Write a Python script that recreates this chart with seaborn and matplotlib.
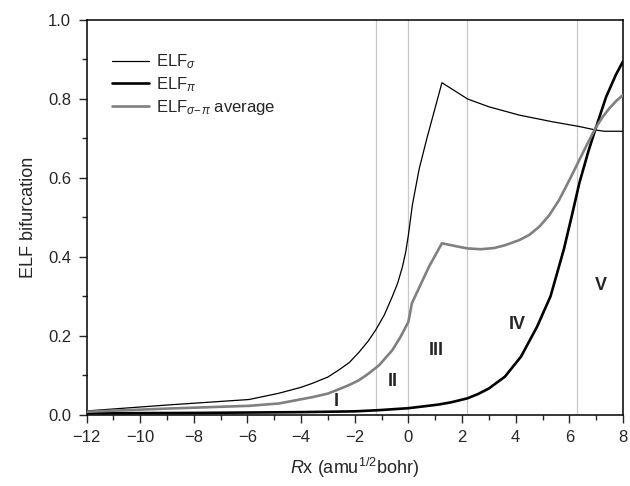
import matplotlib
matplotlib.use("Agg")
import matplotlib.pyplot as plt
import seaborn as sns
import pandas as pd
from matplotlib.ticker import MultipleLocator

# ---- data ----
sigma_x = [-12, -9, -5.94, -4.82, -4, -3.58, -3, -2.59, -2.2, -1.84, -1.5, -1.22, -0.9, -0.6,
           -0.4, -0.22, -0.1, 0, 0.15, 0.4, 0.7, 1.0, 1.25, 1.6, 2.2, 3, 4.13, 5.37, 6.37,
           6.99, 7.3, 8]
sigma_y = [0.009, 0.024, 0.038, 0.054, 0.069, 0.079, 0.095, 0.113, 0.132, 0.158, 0.186, 0.214,
           0.252, 0.299, 0.333, 0.375, 0.412, 0.455, 0.532, 0.622, 0.703, 0.778, 0.841, 0.826,
           0.800, 0.780, 0.759, 0.742, 0.730, 0.721, 0.718, 0.718]

pi_x = [-12, -8, -6, -4, -2, -1.1, 0, 1.1, 1.6, 2.2, 2.6, 3.0, 3.6, 4.2, 4.8, 5.3, 5.8,
        6.12, 6.37, 6.7, 6.97, 7.37, 7.74, 8]
pi_y = [0.003, 0.004, 0.005, 0.006, 0.008, 0.011, 0.016, 0.025, 0.031, 0.041, 0.052, 0.066,
        0.096, 0.147, 0.223, 0.300, 0.420, 0.512, 0.586, 0.665, 0.723, 0.805, 0.862, 0.895]

avg_x = [-12, -9, -5.94, -4.82, -4.2, -3.58, -3, -2.59, -2.2, -1.84, -1.5, -1.09, -0.6, -0.3,
         0, 0.13, 0.77, 1.25, 1.89, 2.2, 2.7, 3.2, 3.6, 4.13, 4.5, 4.88, 5.25, 5.62, 6.0,
         6.37, 6.7, 6.99, 7.25, 7.49, 7.75, 8]
avg_y = [0.007, 0.015, 0.022, 0.028, 0.036, 0.044, 0.053, 0.064, 0.075, 0.087, 0.103, 0.125,
         0.163, 0.196, 0.235, 0.282, 0.375, 0.434, 0.425, 0.421, 0.419, 0.422, 0.429, 0.442,
         0.455, 0.476, 0.505, 0.544, 0.594, 0.645, 0.690, 0.728, 0.755, 0.776, 0.795, 0.810]

region_bounds = [-1.2, 0, 2.2, 6.3]
region_labels = ["I", "II", "III", "IV", "V"]
region_label_x = [-2.7, -0.57, 1.05, 4.04, 7.16]
region_label_y = [0.032, 0.083, 0.163, 0.227, 0.326]

series_names = [r"ELF$_{\sigma}$", r"ELF$_{\pi}$", r"ELF$_{\sigma\!-\!\pi}$ average"]

# ---- style ----
sns.set_style("ticks")
plt.rcParams["font.family"] = ["Liberation Sans", "DejaVu Sans"]
plt.rcParams["mathtext.fontset"] = "custom"
plt.rcParams["mathtext.rm"] = "Liberation Sans"
plt.rcParams["mathtext.it"] = "Liberation Sans:italic"
plt.rcParams["mathtext.bf"] = "Liberation Sans:bold"

fig = plt.figure(figsize=(6.3, 4.86), dpi=100)
ax = fig.add_axes([86.5 / 630, 1 - 414.5 / 486, (623 - 86.5) / 630, (414.5 - 20) / 486])

for b in region_bounds:
    ax.axvline(b, color="#c8c8c8", lw=0.9, zorder=1)

df_s = pd.DataFrame({"x": sigma_x, "y": sigma_y})
df_p = pd.DataFrame({"x": pi_x, "y": pi_y})
df_a = pd.DataFrame({"x": avg_x, "y": avg_y})

sns.lineplot(data=df_s, x="x", y="y", ax=ax, color="black", lw=0.9, label=series_names[0],
             estimator=None, zorder=3)
sns.lineplot(data=df_p, x="x", y="y", ax=ax, color="black", lw=1.9, label=series_names[1],
             estimator=None, zorder=3)
sns.lineplot(data=df_a, x="x", y="y", ax=ax, color="#808080", lw=1.9, label=series_names[2],
             estimator=None, zorder=3)

for lab, lx, ly in zip(region_labels, region_label_x, region_label_y):
    ax.text(lx, ly, lab, fontsize=13, fontweight="bold", ha="center", va="center")

ax.set_xlim(-12, 8)
ax.set_ylim(0, 1.0)
ax.xaxis.set_major_locator(MultipleLocator(2))
ax.xaxis.set_minor_locator(MultipleLocator(1))
ax.yaxis.set_major_locator(MultipleLocator(0.2))
ax.yaxis.set_minor_locator(MultipleLocator(0.1))
ax.set_xticks(range(-12, 9, 2))
ax.set_xticklabels([str(v).replace("-", "\u2212") for v in range(-12, 9, 2)])
ax.set_yticks([0, 0.2, 0.4, 0.6, 0.8, 1.0])
ax.set_yticklabels(["0.0", "0.2", "0.4", "0.6", "0.8", "1.0"])
ax.tick_params(which="major", direction="out", length=6, width=1.0, labelsize=12, pad=5,
               top=False, right=False)
ax.tick_params(which="minor", direction="out", length=3.5, width=1.0, top=False, right=False)
for sp in ax.spines.values():
    sp.set_visible(True)
    sp.set_linewidth(1.1)
    sp.set_color("black")

ax.set_xlabel(r"$\it{R}$x (amu$^{1/2}$bohr)", fontsize=13, labelpad=8)
ax.set_ylabel("ELF bifurcation", fontsize=13, labelpad=8)

leg = ax.legend(loc="upper left", bbox_to_anchor=(0.048, 0.918), frameon=False, fontsize=12,
                handlelength=2.2, handletextpad=0.45, labelspacing=0.25, borderpad=0,
                borderaxespad=0)

fig.savefig("out.png", dpi=100)
